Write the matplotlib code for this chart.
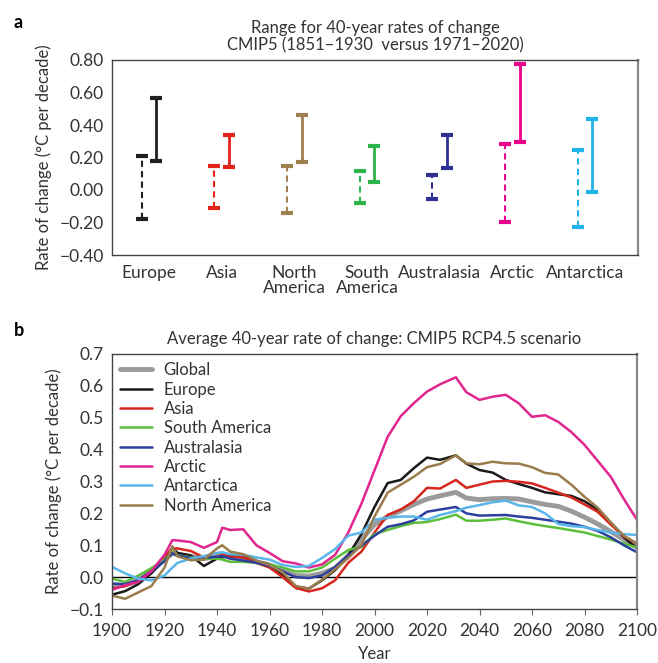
import numpy as np
import matplotlib
matplotlib.use("Agg")
import matplotlib.pyplot as plt

plt.rcParams["font.family"] = ["Lato", "DejaVu Sans"]
plt.rcParams["axes.unicode_minus"] = True

# ---- panel a: ranges of 40-year rates ----
REGIONS = ["Europe", "Asia", "North\nAmerica", "South\nAmerica", "Australasia", "Arctic", "Antarctica"]
REGION_COLORS = ["#231f20", "#e2231a", "#9e8050", "#2db34a", "#2e3192", "#ec008c", "#1fb3e8"]
# 1851-1930 (dashed)
PAST_LOW = [-0.18, -0.11, -0.14, -0.08, -0.055, -0.197, -0.226]
PAST_HIGH = [0.21, 0.145, 0.15, 0.12, 0.094, 0.281, 0.244]
# 1971-2020 (solid)
RECENT_LOW = [0.18, 0.14, 0.17, 0.047, 0.137, 0.297, -0.01]
RECENT_HIGH = [0.565, 0.34, 0.46, 0.27, 0.34, 0.775, 0.435]

# ---- panel b: average 40-year rate of change, RCP4.5 ----
YEARS = [1900, 1905, 1910, 1915, 1920, 1923, 1925, 1930, 1935, 1940, 1942, 1945, 1950,
         1955, 1960, 1965, 1970, 1975, 1980, 1985, 1990, 1995, 2000, 2005, 2010, 2015,
         2020, 2025, 2031, 2035, 2040, 2045, 2050, 2055, 2060, 2065, 2070, 2075, 2080,
         2085, 2090, 2095, 2100]
GLOBAL = [-0.03, -0.025, -0.01, 0.02, 0.055, 0.075, 0.07, 0.065, 0.058, 0.065, 0.068, 0.065, 0.06,
          0.048, 0.038, 0.02, 0.005, 0.003, 0.012, 0.028, 0.068, 0.118, 0.165, 0.19, 0.208, 0.228,
          0.245, 0.255, 0.266, 0.248, 0.243, 0.246, 0.247, 0.245, 0.236, 0.228, 0.222, 0.207, 0.188,
          0.167, 0.143, 0.118, 0.095]
EUROPE = [-0.055, -0.044, -0.022, 0.012, 0.055, 0.093, 0.076, 0.068, 0.035, 0.058, 0.062, 0.066, 0.063,
          0.05, 0.04, 0.005, -0.03, -0.036, -0.01, 0.022, 0.068, 0.135, 0.22, 0.295, 0.305, 0.342,
          0.375, 0.368, 0.382, 0.356, 0.336, 0.328, 0.305, 0.292, 0.28, 0.266, 0.26, 0.255, 0.238,
          0.212, 0.17, 0.125, 0.09]
ASIA = [-0.036, -0.028, -0.012, 0.02, 0.065, 0.09, 0.09, 0.082, 0.062, 0.063, 0.07, 0.064, 0.062,
        0.045, 0.03, 0.0, -0.034, -0.045, -0.035, -0.01, 0.045, 0.08, 0.14, 0.195, 0.212, 0.238,
        0.28, 0.278, 0.305, 0.28, 0.29, 0.3, 0.302, 0.299, 0.294, 0.28, 0.265, 0.25, 0.228,
        0.205, 0.165, 0.128, 0.105]
SOUTH_AMERICA = [-0.005, -0.015, 0.005, 0.028, 0.055, 0.078, 0.069, 0.062, 0.058, 0.058, 0.055, 0.048, 0.048,
                 0.045, 0.04, 0.03, 0.018, 0.018, 0.03, 0.058, 0.085, 0.095, 0.135, 0.148, 0.16, 0.17,
                 0.173, 0.182, 0.196, 0.177, 0.177, 0.18, 0.184, 0.175, 0.167, 0.16, 0.154, 0.147, 0.14,
                 0.129, 0.118, 0.105, 0.093]
AUSTRALASIA = [-0.02, -0.022, -0.01, 0.018, 0.05, 0.075, 0.068, 0.06, 0.06, 0.064, 0.066, 0.058, 0.052,
               0.045, 0.035, 0.018, 0.0, -0.003, 0.005, 0.032, 0.068, 0.098, 0.13, 0.158, 0.166, 0.178,
               0.205, 0.212, 0.22, 0.2, 0.193, 0.194, 0.195, 0.19, 0.186, 0.18, 0.174, 0.168, 0.158,
               0.145, 0.125, 0.1, 0.078]
ARCTIC = [-0.04, -0.025, -0.015, 0.018, 0.07, 0.116, 0.115, 0.11, 0.092, 0.11, 0.155, 0.148, 0.15,
          0.1, 0.076, 0.05, 0.043, 0.03, 0.04, 0.07, 0.14, 0.23, 0.335, 0.44, 0.505, 0.546,
          0.582, 0.605, 0.627, 0.58, 0.556, 0.566, 0.572, 0.545, 0.503, 0.508, 0.487, 0.455, 0.415,
          0.365, 0.315, 0.245, 0.18]
ANTARCTICA = [0.032, 0.012, -0.005, -0.01, 0.005, 0.03, 0.045, 0.058, 0.066, 0.076, 0.078, 0.072, 0.07,
              0.062, 0.055, 0.038, 0.032, 0.035, 0.06, 0.088, 0.13, 0.14, 0.18, 0.186, 0.19, 0.19,
              0.18, 0.195, 0.207, 0.218, 0.226, 0.235, 0.24, 0.225, 0.22, 0.2, 0.167, 0.16, 0.157,
              0.148, 0.14, 0.135, 0.132]
NORTH_AMERICA = [-0.058, -0.068, -0.048, -0.028, 0.03, 0.097, 0.065, 0.053, 0.055, 0.09, 0.1, 0.08, 0.072,
                 0.052, 0.038, 0.015, -0.028, -0.036, -0.008, 0.025, 0.06, 0.1, 0.19, 0.265, 0.29, 0.315,
                 0.345, 0.355, 0.382, 0.357, 0.354, 0.362, 0.357, 0.356, 0.345, 0.327, 0.322, 0.29, 0.252,
                 0.218, 0.172, 0.13, 0.105]

SERIES = [("Global", GLOBAL, "#9a9a9a", 3.5),
          ("Europe", EUROPE, "#1a1a1a", 1.8),
          ("Asia", ASIA, "#d7261e", 1.8),
          ("South America", SOUTH_AMERICA, "#5cbf3b", 1.8),
          ("Australasia", AUSTRALASIA, "#2b3f9c", 1.8),
          ("Arctic", ARCTIC, "#e0258f", 1.8),
          ("Antarctica", ANTARCTICA, "#5ab6ea", 1.8),
          ("North America", NORTH_AMERICA, "#9b7c4c", 1.8)]

FS = 12
TICK_FS = 12.5
TXT = "#333333"

fig = plt.figure(figsize=(6.58, 6.63), dpi=100)
fig.patch.set_facecolor("white")

# ---------------- panel a ----------------
ax = fig.add_axes([112 / 658, 1 - 255 / 663, 526 / 658, 195 / 663])
x = np.arange(1, len(REGIONS) + 1)
off = 0.1
for i, c in enumerate(REGION_COLORS):
    ax.vlines(x[i] - off, PAST_LOW[i], PAST_HIGH[i], color=c, lw=1.5, linestyles=(0, (3, 2)))
    ax.plot([x[i] - off] * 2, [PAST_LOW[i], PAST_HIGH[i]], ls="none", marker="_",
            ms=9, mew=3, color=c)
    ax.vlines(x[i] + off, RECENT_LOW[i], RECENT_HIGH[i], color=c, lw=2)
    ax.plot([x[i] + off] * 2, [RECENT_LOW[i], RECENT_HIGH[i]], ls="none", marker="_",
            ms=9, mew=3, color=c)

ax.set_xlim(0.49, 7.73)
ax.set_ylim(-0.40, 0.80)
ax.set_yticks(np.arange(-0.4, 0.81, 0.2))
ax.set_yticklabels(["\u22120.40", "\u22120.20", "0.00", "0.20", "0.40", "0.60", "0.80"])
ax.set_xticks(x)
ax.set_xticklabels(REGIONS, linespacing=0.95)
ax.tick_params(axis="y", length=0, labelsize=TICK_FS, labelcolor=TXT, pad=6)
ax.tick_params(axis="x", length=0, labelsize=FS + 0.5, labelcolor=TXT, pad=7)
ax.set_ylabel("Rate of change (\u00b0C per decade)", fontsize=FS, color=TXT, labelpad=5)
ax.set_title("Range for 40-year rates of change\nCMIP5 (1851\u20131930  versus 1971\u20132020)",
             fontsize=FS, color=TXT, pad=7, linespacing=1.1)
for s in ax.spines.values():
    s.set_color("#444444")
    s.set_linewidth(1.0)
ax.spines["right"].set_color("#888888")
ax.spines["right"].set_linewidth(1.6)

# ---------------- panel b ----------------
bx = fig.add_axes([112 / 658, 1 - 609 / 663, 525 / 658, 255 / 663])
bx.axhline(0, color="black", lw=1.0, zorder=1)
for name, vals, col, lw in SERIES:
    bx.plot(YEARS, vals, color=col, lw=lw, label=name, solid_capstyle="round", zorder=2)

bx.set_xlim(1900, 2100)
bx.set_ylim(-0.1, 0.7)
bx.set_xticks(np.arange(1900, 2101, 20))
bx.set_yticks(np.arange(-0.1, 0.71, 0.1))
bx.set_yticklabels(["\u22120.1", "0.0", "0.1", "0.2", "0.3", "0.4", "0.5", "0.6", "0.7"])
bx.tick_params(axis="y", length=0, labelsize=TICK_FS, labelcolor=TXT, pad=6)
bx.tick_params(axis="x", length=4, direction="out", color="#666666", labelsize=TICK_FS,
               labelcolor=TXT, pad=6)
bx.set_xlabel("Year", fontsize=FS, color=TXT, labelpad=5)
bx.set_ylabel("Rate of change (\u00b0C per decade)", fontsize=FS, color=TXT, labelpad=5)
bx.set_title("Average 40-year rate of change: CMIP5 RCP4.5 scenario", fontsize=FS,
             color=TXT, pad=7)
for s in bx.spines.values():
    s.set_color("#444444")
    s.set_linewidth(1.0)
bx.spines["right"].set_color("#888888")
bx.spines["right"].set_linewidth(1.6)

leg = bx.legend(loc="upper left", frameon=False, fontsize=FS, handlelength=1.9,
                handletextpad=0.7, labelspacing=0.2, borderaxespad=0.2, borderpad=0.3)
for t in leg.get_texts():
    t.set_color(TXT)

fig.text(14 / 658, 1 - 22 / 663, "a", fontsize=13, fontweight="bold", va="center")
fig.text(14 / 658, 1 - 331 / 663, "b", fontsize=13, fontweight="bold", va="center")

fig.savefig("out.png", dpi=100)
